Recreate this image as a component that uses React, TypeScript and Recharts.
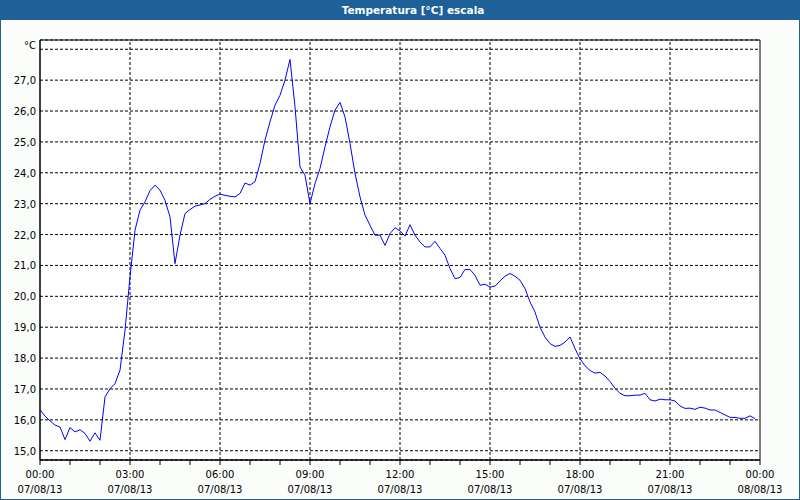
import React from 'react';
import {
  LineChart,
  Line,
  XAxis,
  YAxis,
  CartesianGrid,
  ReferenceLine,
  ReferenceArea
} from 'recharts';

// Temperature readings every 10 minutes, 00:00 to 23:50 on 07/08/13
const temps = [
  16.33, 16.12, 15.97, 15.83, 15.77, 15.36,
  15.75, 15.61, 15.68, 15.56, 15.31, 15.58,
  15.34, 16.74, 17.01, 17.17, 17.61, 18.9,
  20.63, 22.14, 22.79, 23.06, 23.42, 23.6,
  23.44, 23.11, 22.57, 21.06, 21.98, 22.68,
  22.81, 22.92, 22.96, 23.0, 23.14, 23.24,
  23.31, 23.27, 23.24, 23.22, 23.33, 23.67,
  23.6, 23.71, 24.3, 25.06, 25.65, 26.19,
  26.51, 27.0, 27.67, 26.14, 24.19, 23.92,
  23.0, 23.65, 24.14, 24.84, 25.49, 26.03,
  26.28, 25.81, 24.95, 23.98, 23.22, 22.63,
  22.3, 21.98, 21.98, 21.65, 22.03, 22.22,
  22.12, 21.95, 22.32, 21.98, 21.76, 21.6,
  21.6, 21.78, 21.55, 21.33, 20.9, 20.57,
  20.61, 20.87, 20.87, 20.68, 20.36, 20.39,
  20.3, 20.33, 20.5, 20.65, 20.74, 20.65,
  20.52, 20.25, 19.82, 19.49, 19.0, 18.68,
  18.47, 18.38, 18.41, 18.52, 18.68, 18.31,
  17.98, 17.75, 17.6, 17.51, 17.54, 17.42,
  17.24, 17.02, 16.86, 16.78, 16.78, 16.8,
  16.8, 16.86, 16.65, 16.61, 16.67, 16.65,
  16.65, 16.61, 16.45, 16.37, 16.38, 16.34,
  16.41, 16.38, 16.32, 16.32, 16.24, 16.16,
  16.08, 16.08, 16.05, 16.05, 16.13, 16.04
];
const sampleMinutes = 10;

const yTicks = [15, 16, 17, 18, 19, 20, 21, 22, 23, 24, 25, 26, 27, 28];
const yDomain = [14.7, 28.3];
const hourTicks = [0, 1, 2, 3, 4, 5, 6, 7, 8, 9, 10, 11, 12, 13, 14, 15, 16, 17, 18, 19, 20, 21, 22, 23, 24];
const majorHours = [3, 6, 9, 12, 15, 18, 21];
const timeLabels = ['00:00', '03:00', '06:00', '09:00', '12:00', '15:00', '18:00', '21:00', '00:00'];
const dateLabels = ['07/08/13', '07/08/13', '07/08/13', '07/08/13', '07/08/13', '07/08/13', '07/08/13', '07/08/13', '08/08/13'];

const data = temps.map((t, i) => ({ hour: (i * sampleMinutes) / 60, temp: t }));

const FONT = '"DejaVu Sans", Verdana, sans-serif';

function HourTick(props: any) {
  const { x, y, payload } = props;
  const v = payload.value;
  if (v % 3 !== 0) return null;
  const idx = v / 3;
  return (
    <text x={x} y={y} textAnchor="middle" fontFamily={FONT} fontSize={10} fill="#000">
      <tspan x={x} dy={11}>{timeLabels[idx]}</tspan>
      <tspan x={x} dy={14.5}>{dateLabels[idx]}</tspan>
    </text>
  );
}

function TempTick(props: any) {
  const { x, y, payload } = props;
  const v = payload.value;
  const label = v === 28 ? '°C' : v.toFixed(1).replace('.', ',');
  return (
    <text x={x} y={v === 28 ? y - 3 : y + 1} textAnchor="end" dominantBaseline="middle" fontFamily={FONT} fontSize={10} fill="#000">
      {label}
    </text>
  );
}

export default function App() {
  return (
    <div style={{ position: 'fixed', left: 0, top: 0, width: 800, height: 500, background: '#FAFDFA' }}>
      <LineChart width={800} height={500} data={data} margin={{ top: 40, right: 40, bottom: 0, left: 0 }}>
        <CartesianGrid vertical={false} stroke="#000" strokeDasharray="3 2" fill="#ffffff" />
        {majorHours.map((h) => (
          <ReferenceLine key={h} x={h} stroke="#000" strokeDasharray="3 2" />
        ))}
        <XAxis
          dataKey="hour"
          type="number"
          domain={[0, 24]}
          ticks={hourTicks}
          interval={0}
          height={40}
          tickSize={5}
          tickMargin={2}
          stroke="#000"
          tick={<HourTick />}
        />
        <YAxis
          type="number"
          domain={yDomain}
          ticks={yTicks}
          interval={0}
          width={40}
          tickSize={0}
          tickLine={false}
          tickMargin={4}
          stroke="#000"
          tick={<TempTick />}
        />
        <ReferenceArea x1={0} x2={24} y1={yDomain[0]} y2={yDomain[1]} fill="none" stroke="#000" ifOverflow="visible" />
        <Line
          dataKey="temp"
          type="linear"
          stroke="#0000ff"
          strokeWidth={1}
          dot={false}
          isAnimationActive={false}
        />
      </LineChart>
      <div
        style={{
          position: 'absolute',
          left: 0,
          top: 0,
          width: 800,
          height: 20,
          background: '#1E6098',
          color: '#fff',
          fontFamily: FONT,
          fontWeight: 'bold',
          fontSize: 10.5,
          lineHeight: '20px'
        }}
      >
        <span style={{ position: 'absolute', left: 413, transform: 'translateX(-50%)', whiteSpace: 'nowrap' }}>
          Temperatura [°C] escala
        </span>
      </div>
      <div
        style={{
          position: 'absolute',
          left: 0,
          top: 0,
          width: 800,
          height: 500,
          boxSizing: 'border-box',
          border: '1px solid #1E6098',
          pointerEvents: 'none'
        }}
      />
    </div>
  );
}
